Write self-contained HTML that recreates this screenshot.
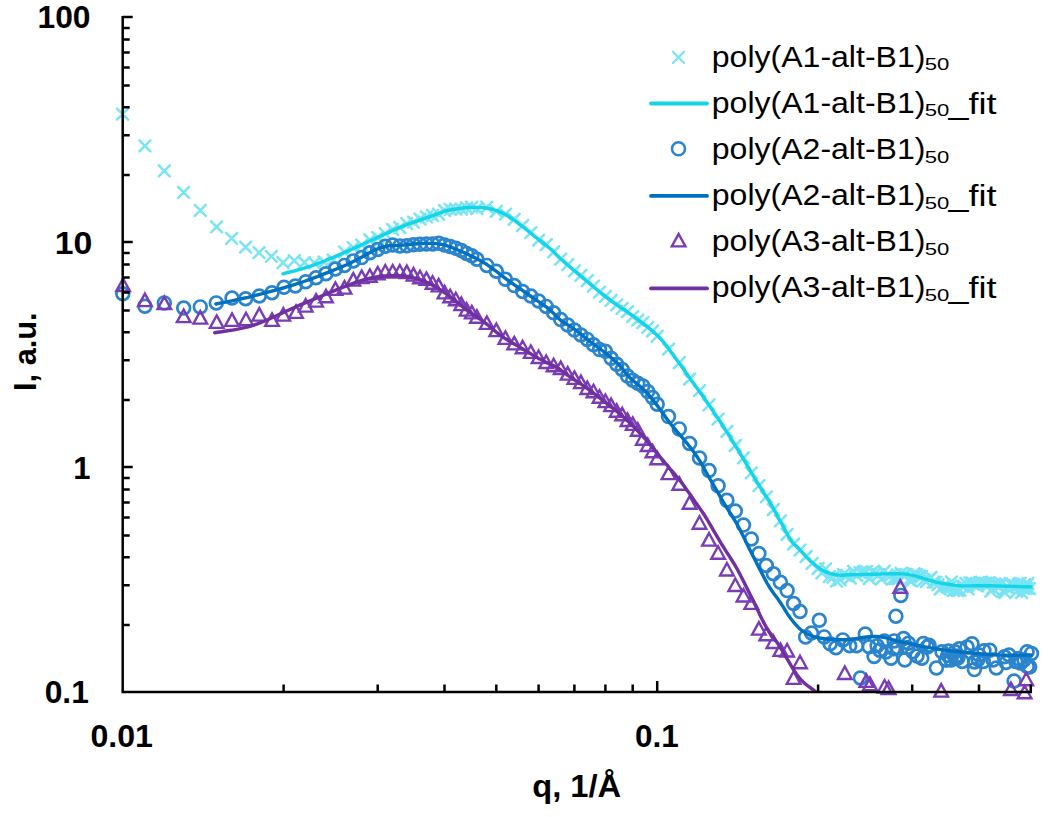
<!DOCTYPE html>
<html><head><meta charset="utf-8"><title>SAXS</title>
<style>html,body{margin:0;padding:0;background:#fff;width:1050px;height:817px;overflow:hidden}svg{display:block}</style>
</head><body>
<svg width="1050" height="817" viewBox="0 0 1050 817"><rect width="100%" height="100%" fill="#fff"/><path d="M117.0,108.6L128.0,119.6M117.0,119.6L128.0,108.6M139.4,140.3L150.4,151.3M139.4,151.3L150.4,140.3M158.8,165.3L169.8,176.3M158.8,176.3L169.8,165.3M178.1,186.9L189.1,197.9M178.1,197.9L189.1,186.9M194.8,204.9L205.8,215.9M194.8,215.9L205.8,204.9M211.1,221.4L222.1,232.4M211.1,232.4L222.1,221.4M226.1,232.8L237.1,243.8M226.1,243.8L237.1,232.8M240.1,241.6L251.1,252.6M240.1,252.6L251.1,241.6M253.5,247.1L264.5,258.1M253.5,258.1L264.5,247.1M265.9,250.9L276.9,261.9M265.9,261.9L276.9,250.9M277.5,257.1L288.5,268.1M277.5,268.1L288.5,257.1M288.8,255.2L299.8,266.2M288.8,266.2L299.8,255.2M299.0,257.0L310.0,268.0M299.0,268.0L310.0,257.0M308.9,257.5L319.9,268.5M308.9,268.5L319.9,257.5M318.5,256.5L329.5,267.5M318.5,267.5L329.5,256.5M327.7,254.5L338.7,265.5M327.7,265.5L338.7,254.5M339.0,246.6L350.0,257.6M339.0,257.6L350.0,246.6M347.8,242.2L358.8,253.2M347.8,253.2L358.8,242.2M356.2,239.6L367.2,250.6M356.2,250.6L367.2,239.6M364.4,234.5L375.4,245.5M364.4,245.5L375.4,234.5M372.2,232.0L383.2,243.0M372.2,243.0L383.2,232.0M379.8,228.1L390.8,239.1M379.8,239.1L390.8,228.1M387.2,224.0L398.2,235.0M387.2,235.0L398.2,224.0M394.3,222.0L405.3,233.0M394.3,233.0L405.3,222.0M401.3,218.1L412.3,229.1M401.3,229.1L412.3,218.1M408.0,216.6L419.0,227.6M408.0,227.6L419.0,216.6M414.5,213.5L425.5,224.5M414.5,224.5L425.5,213.5M420.9,211.4L431.9,222.4M420.9,222.4L431.9,211.4M427.1,210.0L438.1,221.0M427.1,221.0L438.1,210.0M433.1,208.7L444.1,219.7M433.1,219.7L444.1,208.7M439.0,205.0L450.0,216.0M439.0,216.0L450.0,205.0M444.7,203.8L455.7,214.8M444.7,214.8L455.7,203.8M450.3,203.7L461.3,214.7M450.3,214.7L461.3,203.7M455.8,203.7L466.8,214.7M455.8,214.7L466.8,203.7M461.1,202.3L472.1,213.3M461.1,213.3L472.1,202.3M466.3,201.6L477.3,212.6M466.3,212.6L477.3,201.6M471.4,203.1L482.4,214.1M471.4,214.1L482.4,203.1M481.3,201.6L492.3,212.6M481.3,212.6L492.3,201.6M490.8,205.9L501.8,216.9M490.8,216.9L501.8,205.9M499.9,208.6L510.9,219.6M499.9,219.6L510.9,208.6M508.7,213.9L519.7,224.9M508.7,224.9L519.7,213.9M517.1,220.2L528.1,231.2M517.1,231.2L528.1,220.2M525.3,227.1L536.3,238.1M525.3,238.1L536.3,227.1M533.1,234.7L544.1,245.7M533.1,245.7L544.1,234.7M540.7,239.2L551.7,250.2M540.7,250.2L551.7,239.2M548.1,246.4L559.1,257.4M548.1,257.4L559.1,246.4M555.2,253.7L566.2,264.7M555.2,264.7L566.2,253.7M562.2,259.1L573.2,270.1M562.2,270.1L573.2,259.1M568.9,265.4L579.9,276.4M568.9,276.4L579.9,265.4M575.4,269.8L586.4,280.8M575.4,280.8L586.4,269.8M581.8,275.1L592.8,286.1M581.8,286.1L592.8,275.1M588.0,280.6L599.0,291.6M588.0,291.6L599.0,280.6M594.0,286.7L605.0,297.7M594.0,297.7L605.0,286.7M599.9,290.8L610.9,301.8M599.9,301.8L610.9,290.8M605.6,294.8L616.6,305.8M605.6,305.8L616.6,294.8M611.2,299.4L622.2,310.4M611.2,310.4L622.2,299.4M616.7,302.8L627.7,313.8M616.7,313.8L627.7,302.8M622.0,306.1L633.0,317.1M622.0,317.1L633.0,306.1M627.2,311.1L638.2,322.1M627.2,322.1L638.2,311.1M632.3,314.6L643.3,325.6M632.3,325.6L643.3,314.6M637.3,317.2L648.3,328.2M637.3,328.2L648.3,317.2M642.2,321.8L653.2,332.8M642.2,332.8L653.2,321.8M647.0,325.5L658.0,336.5M647.0,336.5L658.0,325.5M651.7,330.6L662.7,341.6M651.7,341.6L662.7,330.6M663.0,343.6L674.0,354.6M663.0,354.6L674.0,343.6M673.8,357.2L684.8,368.2M673.8,368.2L684.8,357.2M684.1,373.5L695.1,384.5M684.1,384.5L695.1,373.5M694.0,385.2L705.0,396.2M694.0,396.2L705.0,385.2M703.5,399.4L714.5,410.4M703.5,410.4L714.5,399.4M712.6,413.7L723.6,424.7M712.6,424.7L723.6,413.7M721.4,425.8L732.4,436.8M721.4,436.8L732.4,425.8M729.8,440.0L740.8,451.0M729.8,451.0L740.8,440.0M738.0,452.4L749.0,463.4M738.0,463.4L749.0,452.4M745.8,467.4L756.8,478.4M745.8,478.4L756.8,467.4M753.4,480.2L764.4,491.2M753.4,491.2L764.4,480.2M760.8,491.3L771.8,502.3M760.8,502.3L771.8,491.3M767.9,504.0L778.9,515.0M767.9,515.0L778.9,504.0M774.9,515.4L785.9,526.4M774.9,526.4L785.9,515.4M781.6,528.8L792.6,539.8M781.6,539.8L792.6,528.8M788.1,538.5L799.1,549.5M788.1,549.5L799.1,538.5M794.5,544.6L805.5,555.6M794.5,555.6L805.5,544.6M800.7,551.0L811.7,562.0M800.7,562.0L811.7,551.0M806.7,557.8L817.7,568.8M806.7,568.8L817.7,557.8M812.6,562.9L823.6,573.9M812.6,573.9L823.6,562.9M812.6,563.0L823.6,574.0M812.6,574.0L823.6,563.0M816.4,567.4L827.4,578.4M816.4,578.4L827.4,567.4M820.1,563.3L831.1,574.3M820.1,574.3L831.1,563.3M823.8,571.2L834.8,582.2M823.8,582.2L834.8,571.2M827.4,571.6L838.4,582.6M827.4,582.6L838.4,571.6M831.0,575.7L842.0,586.7M831.0,586.7L842.0,575.7M834.5,574.4L845.5,585.4M834.5,585.4L845.5,574.4M838.0,569.0L849.0,580.0M838.0,580.0L849.0,569.0M841.4,569.8L852.4,580.8M841.4,580.8L852.4,569.8M844.7,572.5L855.7,583.5M844.7,583.5L855.7,572.5M848.1,565.9L859.1,576.9M848.1,576.9L859.1,565.9M851.3,570.2L862.3,581.2M851.3,581.2L862.3,570.2M854.5,567.2L865.5,578.2M854.5,578.2L865.5,567.2M857.7,566.6L868.7,577.6M857.7,577.6L868.7,566.6M860.8,566.0L871.8,577.0M860.8,577.0L871.8,566.0M863.9,573.0L874.9,584.0M863.9,584.0L874.9,573.0M867.0,566.5L878.0,577.5M867.0,577.5L878.0,566.5M870.0,567.6L881.0,578.6M870.0,578.6L881.0,567.6M873.0,569.0L884.0,580.0M873.0,580.0L884.0,569.0M875.9,573.7L886.9,584.7M875.9,584.7L886.9,573.7M878.8,565.7L889.8,576.7M878.8,576.7L889.8,565.7M881.7,569.3L892.7,580.3M881.7,580.3L892.7,569.3M884.5,570.3L895.5,581.3M884.5,581.3L895.5,570.3M887.3,573.6L898.3,584.6M887.3,584.6L898.3,573.6M890.0,573.0L901.0,584.0M890.0,584.0L901.0,573.0M892.8,573.4L903.8,584.4M892.8,584.4L903.8,573.4M895.5,567.6L906.5,578.6M895.5,578.6L906.5,567.6M898.1,569.1L909.1,580.1M898.1,580.1L909.1,569.1M900.8,568.8L911.8,579.8M900.8,579.8L911.8,568.8M903.4,574.4L914.4,585.4M903.4,585.4L914.4,574.4M905.9,575.6L916.9,586.6M905.9,586.6L916.9,575.6M908.5,568.2L919.5,579.2M908.5,579.2L919.5,568.2M911.0,569.2L922.0,580.2M911.0,580.2L922.0,569.2M913.5,570.4L924.5,581.4M913.5,581.4L924.5,570.4M916.0,571.1L927.0,582.1M916.0,582.1L927.0,571.1M918.4,574.4L929.4,585.4M918.4,585.4L929.4,574.4M920.8,576.2L931.8,587.2M920.8,587.2L931.8,576.2M923.2,573.7L934.2,584.7M923.2,584.7L934.2,573.7M925.6,571.8L936.6,582.8M925.6,582.8L936.6,571.8M927.9,576.6L938.9,587.6M927.9,587.6L938.9,576.6M930.2,576.7L941.2,587.7M930.2,587.7L941.2,576.7M932.5,579.2L943.5,590.2M932.5,590.2L943.5,579.2M934.8,583.5L945.8,594.5M934.8,594.5L945.8,583.5M937.1,581.3L948.1,592.3M937.1,592.3L948.1,581.3M939.3,579.9L950.3,590.9M939.3,590.9L950.3,579.9M941.5,581.3L952.5,592.3M941.5,592.3L952.5,581.3M943.7,582.2L954.7,593.2M943.7,593.2L954.7,582.2M945.9,576.3L956.9,587.3M945.9,587.3L956.9,576.3M948.0,585.0L959.0,596.0M948.0,596.0L959.0,585.0M950.1,584.1L961.1,595.1M950.1,595.1L961.1,584.1M952.2,585.2L963.2,596.2M952.2,596.2L963.2,585.2M954.3,584.7L965.3,595.7M954.3,595.7L965.3,584.7M956.4,580.7L967.4,591.7M956.4,591.7L967.4,580.7M958.5,580.9L969.5,591.9M958.5,591.9L969.5,580.9M960.5,578.0L971.5,589.0M960.5,589.0L971.5,578.0M962.5,583.3L973.5,594.3M962.5,594.3L973.5,583.3M964.5,577.5L975.5,588.5M964.5,588.5L975.5,577.5M966.5,577.5L977.5,588.5M966.5,588.5L977.5,577.5M968.5,578.9L979.5,589.9M968.5,589.9L979.5,578.9M970.4,578.4L981.4,589.4M970.4,589.4L981.4,578.4M972.3,580.1L983.3,591.1M972.3,591.1L983.3,580.1M974.3,577.2L985.3,588.2M974.3,588.2L985.3,577.2M976.2,576.7L987.2,587.7M976.2,587.7L987.2,576.7M978.0,578.2L989.0,589.2M978.0,589.2L989.0,578.2M979.9,577.7L990.9,588.7M979.9,588.7L990.9,577.7M981.8,580.4L992.8,591.4M981.8,591.4L992.8,580.4M983.6,577.1L994.6,588.1M983.6,588.1L994.6,577.1M985.4,585.6L996.4,596.6M985.4,596.6L996.4,585.6M987.2,583.0L998.2,594.0M987.2,594.0L998.2,583.0M989.0,578.4L1000.0,589.4M989.0,589.4L1000.0,578.4M990.8,579.5L1001.8,590.5M990.8,590.5L1001.8,579.5M992.6,580.5L1003.6,591.5M992.6,591.5L1003.6,580.5M994.4,580.7L1005.4,591.7M994.4,591.7L1005.4,580.7M996.1,578.3L1007.1,589.3M996.1,589.3L1007.1,578.3M997.8,585.6L1008.8,596.6M997.8,596.6L1008.8,585.6M999.5,587.1L1010.5,598.1M999.5,598.1L1010.5,587.1M1001.3,581.9L1012.3,592.9M1001.3,592.9L1012.3,581.9M1002.9,582.1L1013.9,593.1M1002.9,593.1L1013.9,582.1M1004.6,578.2L1015.6,589.2M1004.6,589.2L1015.6,578.2M1006.3,578.4L1017.3,589.4M1006.3,589.4L1017.3,578.4M1008.0,580.8L1019.0,591.8M1008.0,591.8L1019.0,580.8M1009.6,580.1L1020.6,591.1M1009.6,591.1L1020.6,580.1M1011.2,585.8L1022.2,596.8M1011.2,596.8L1022.2,585.8M1012.9,579.2L1023.9,590.2M1012.9,590.2L1023.9,579.2M1014.5,577.8L1025.5,588.8M1014.5,588.8L1025.5,577.8M1016.1,587.1L1027.1,598.1M1016.1,598.1L1027.1,587.1M1017.7,583.0L1028.7,594.0M1017.7,594.0L1028.7,583.0M1019.2,579.2L1030.2,590.2M1019.2,590.2L1030.2,579.2M1020.8,583.2L1031.8,594.2M1020.8,594.2L1031.8,583.2M1022.4,578.1L1033.4,589.1M1022.4,589.1L1033.4,578.1M1023.9,583.1L1034.9,594.1M1023.9,594.1L1034.9,583.1" stroke="#78E4F4" stroke-width="2.5" stroke-linecap="round" fill="none"/><path d="M283.0,273.8 L285.1,273.2 L287.9,272.5 L291.2,271.7 L294.8,270.8 L298.8,269.7 L302.8,268.6 L306.7,267.4 L310.5,266.2 L314.2,264.9 L317.9,263.5 L321.7,262.0 L325.6,260.5 L329.4,258.9 L333.3,257.3 L337.2,255.6 L341.0,254.0 L344.8,252.4 L348.6,250.7 L352.4,249.0 L356.2,247.2 L360.0,245.5 L363.8,243.8 L367.6,242.0 L371.4,240.3 L375.2,238.6 L379.1,236.8 L382.9,235.0 L386.8,233.2 L390.6,231.5 L394.4,229.8 L398.2,228.1 L401.9,226.6 L405.6,225.1 L409.4,223.7 L413.2,222.4 L416.9,221.1 L420.5,219.9 L423.9,218.7 L427.1,217.6 L430.0,216.6 L432.5,215.7 L434.7,214.9 L436.6,214.1 L438.4,213.5 L440.1,212.8 L441.7,212.3 L443.4,211.7 L445.2,211.2 L447.1,210.7 L449.0,210.2 L450.9,209.8 L452.9,209.4 L454.8,209.1 L456.7,208.7 L458.6,208.5 L460.5,208.2 L462.4,208.0 L464.3,207.8 L466.2,207.6 L468.1,207.5 L470.0,207.4 L471.9,207.4 L473.8,207.4 L475.7,207.4 L477.6,207.5 L479.5,207.5 L481.4,207.6 L483.4,207.8 L485.3,208.0 L487.2,208.2 L489.1,208.6 L491.0,209.0 L492.9,209.5 L494.8,210.1 L496.7,210.7 L498.6,211.4 L500.5,212.2 L502.4,213.1 L504.3,214.0 L506.2,215.0 L508.1,216.1 L510.0,217.3 L511.9,218.6 L513.8,220.0 L515.7,221.4 L517.6,222.8 L519.5,224.3 L521.4,225.7 L523.3,227.2 L525.2,228.6 L527.1,230.2 L529.0,231.7 L531.0,233.3 L532.9,234.8 L534.8,236.4 L536.7,237.9 L538.7,239.5 L540.7,241.0 L542.7,242.7 L544.8,244.3 L546.7,245.8 L548.6,247.3 L550.3,248.8 L551.9,250.1 L553.1,251.2 L554.0,252.1 L554.7,252.9 L555.4,253.6 L556.1,254.4 L557.0,255.4 L558.3,256.6 L560.0,258.2 L562.3,260.2 L565.0,262.6 L568.0,265.2 L571.2,268.0 L574.6,270.9 L578.0,273.8 L581.3,276.6 L584.5,279.3 L587.6,281.9 L590.6,284.4 L593.7,287.0 L596.8,289.5 L599.8,292.0 L602.9,294.4 L605.9,296.8 L609.0,299.2 L612.1,301.5 L615.1,303.6 L618.2,305.7 L621.2,307.8 L624.3,309.9 L627.4,312.0 L630.4,314.2 L633.5,316.4 L636.6,318.7 L639.8,321.1 L643.0,323.4 L646.2,325.9 L649.3,328.3 L652.3,330.8 L655.3,333.4 L658.0,336.0 L660.6,338.7 L663.0,341.4 L665.3,344.3 L667.5,347.1 L669.6,350.0 L671.7,352.9 L673.8,355.8 L675.9,358.6 L678.0,361.4 L680.0,364.2 L682.0,367.0 L684.0,369.8 L685.9,372.6 L687.9,375.3 L689.8,378.1 L691.8,380.9 L693.8,383.7 L695.8,386.4 L697.8,389.2 L699.8,392.0 L701.7,394.7 L703.7,397.5 L705.7,400.3 L707.7,403.2 L709.7,406.1 L711.7,409.0 L713.6,411.9 L715.6,414.9 L717.6,417.8 L719.6,420.8 L721.6,423.9 L723.6,427.0 L725.6,430.2 L727.7,433.4 L729.7,436.6 L731.8,439.9 L733.9,443.2 L735.9,446.5 L738.0,449.9 L740.0,453.2 L742.0,456.5 L744.0,459.9 L746.0,463.3 L748.0,466.7 L750.0,470.1 L751.9,473.5 L753.9,476.9 L755.9,480.2 L757.9,483.4 L759.8,486.5 L761.8,489.5 L763.7,492.6 L765.7,495.6 L767.7,498.8 L769.7,502.2 L771.8,505.7 L774.0,509.6 L776.4,514.0 L778.9,518.7 L781.4,523.3 L783.9,527.9 L786.2,532.1 L788.2,535.8 L790.0,538.8 L791.4,541.0 L792.6,542.6 L793.5,543.7 L794.3,544.4 L795.0,545.0 L795.7,545.5 L796.5,546.1 L797.3,546.9 L798.2,547.9 L799.1,548.9 L800.1,550.0 L801.0,551.0 L801.9,552.0 L802.9,553.0 L803.8,554.0 L804.7,555.0 L805.6,556.0 L806.5,556.9 L807.4,557.9 L808.4,558.8 L809.3,559.7 L810.2,560.6 L811.1,561.5 L812.0,562.3 L812.9,563.1 L813.8,563.9 L814.8,564.7 L815.7,565.5 L816.6,566.2 L817.6,566.9 L818.5,567.6 L819.4,568.2 L820.3,568.8 L821.2,569.4 L822.1,569.9 L823.0,570.4 L824.0,570.9 L824.9,571.4 L825.8,571.8 L826.7,572.2 L827.6,572.6 L828.5,572.9 L829.5,573.2 L830.4,573.5 L831.3,573.8 L832.3,574.0 L833.2,574.2 L834.1,574.4 L835.0,574.6 L835.9,574.7 L836.8,574.9 L837.7,575.0 L838.6,575.0 L839.5,575.1 L840.4,575.2 L841.4,575.2 L842.3,575.2 L843.2,575.2 L844.0,575.1 L844.9,575.1 L845.9,575.0 L847.0,574.9 L848.4,574.9 L850.0,574.8 L851.9,574.7 L854.2,574.7 L856.6,574.6 L859.2,574.6 L861.9,574.5 L864.6,574.4 L867.4,574.4 L870.0,574.3 L872.6,574.2 L875.4,574.2 L878.2,574.1 L881.0,574.0 L883.7,573.9 L886.4,573.9 L889.0,573.8 L891.4,573.8 L893.7,573.8 L895.8,573.8 L897.9,573.8 L899.9,573.8 L901.8,573.9 L903.7,573.9 L905.5,574.1 L907.4,574.3 L909.2,574.6 L910.9,574.9 L912.6,575.3 L914.3,575.7 L915.9,576.2 L917.6,576.7 L919.3,577.2 L921.1,577.7 L922.9,578.2 L924.8,578.8 L926.6,579.4 L928.5,580.0 L930.5,580.6 L932.6,581.2 L934.8,581.8 L937.1,582.3 L939.6,582.8 L942.3,583.3 L945.2,583.8 L948.1,584.3 L951.1,584.7 L954.1,585.1 L957.1,585.4 L960.0,585.7 L962.9,585.9 L965.7,585.9 L968.6,585.9 L971.5,585.9 L974.3,585.8 L977.2,585.7 L980.0,585.7 L982.9,585.7 L985.7,585.7 L988.5,585.8 L991.3,585.8 L994.2,585.9 L997.0,586.0 L999.8,586.0 L1002.7,586.1 L1005.7,586.2 L1008.9,586.3 L1012.4,586.4 L1016.1,586.5 L1019.8,586.6 L1023.3,586.7 L1026.4,586.8 L1029.0,586.8 L1031.0,586.9" stroke="#14D4E8" stroke-width="3.4" fill="none" stroke-linejoin="round" stroke-linecap="round"/><g fill="none" stroke="#2A84CE" stroke-width="2.7"><circle cx="122.8" cy="293.7" r="6.4"/><circle cx="144.9" cy="306.3" r="6.4"/><circle cx="164.3" cy="302.9" r="6.4"/><circle cx="183.7" cy="308.0" r="6.4"/><circle cx="200.3" cy="306.9" r="6.4"/><circle cx="216.3" cy="302.9" r="6.4"/><circle cx="232.0" cy="298.0" r="6.4"/><circle cx="245.6" cy="298.7" r="6.4"/><circle cx="259.3" cy="296.0" r="6.4"/><circle cx="272.0" cy="292.7" r="6.4"/><circle cx="284.0" cy="287.3" r="6.4"/><circle cx="295.3" cy="286.0" r="6.4"/><circle cx="305.7" cy="281.7" r="6.4"/><circle cx="316.0" cy="277.8" r="6.4"/><circle cx="325.9" cy="273.7" r="6.4"/><circle cx="335.4" cy="269.0" r="6.4"/><circle cx="344.5" cy="265.4" r="6.4"/><circle cx="353.3" cy="260.9" r="6.4"/><circle cx="361.7" cy="257.6" r="6.4"/><circle cx="369.9" cy="252.7" r="6.4"/><circle cx="377.7" cy="249.5" r="6.4"/><circle cx="385.3" cy="246.2" r="6.4"/><circle cx="392.7" cy="245.0" r="6.4"/><circle cx="399.8" cy="245.9" r="6.4"/><circle cx="406.8" cy="245.7" r="6.4"/><circle cx="413.5" cy="244.8" r="6.4"/><circle cx="420.0" cy="244.2" r="6.4"/><circle cx="426.4" cy="244.0" r="6.4"/><circle cx="432.6" cy="243.9" r="6.4"/><circle cx="438.6" cy="243.3" r="6.4"/><circle cx="444.5" cy="245.0" r="6.4"/><circle cx="450.2" cy="246.6" r="6.4"/><circle cx="455.8" cy="248.2" r="6.4"/><circle cx="461.3" cy="250.5" r="6.4"/><circle cx="466.6" cy="253.4" r="6.4"/><circle cx="471.8" cy="255.8" r="6.4"/><circle cx="476.9" cy="259.2" r="6.4"/><circle cx="486.8" cy="265.4" r="6.4"/><circle cx="496.3" cy="271.2" r="6.4"/><circle cx="505.4" cy="279.2" r="6.4"/><circle cx="514.2" cy="285.6" r="6.4"/><circle cx="522.6" cy="291.5" r="6.4"/><circle cx="530.8" cy="296.0" r="6.4"/><circle cx="538.6" cy="301.0" r="6.4"/><circle cx="546.2" cy="306.4" r="6.4"/><circle cx="553.6" cy="312.8" r="6.4"/><circle cx="560.7" cy="319.6" r="6.4"/><circle cx="567.7" cy="325.0" r="6.4"/><circle cx="574.4" cy="330.0" r="6.4"/><circle cx="580.9" cy="335.0" r="6.4"/><circle cx="587.3" cy="339.4" r="6.4"/><circle cx="593.5" cy="344.7" r="6.4"/><circle cx="599.5" cy="349.6" r="6.4"/><circle cx="605.4" cy="351.3" r="6.4"/><circle cx="611.1" cy="358.3" r="6.4"/><circle cx="616.7" cy="364.2" r="6.4"/><circle cx="622.2" cy="369.5" r="6.4"/><circle cx="627.5" cy="376.1" r="6.4"/><circle cx="632.7" cy="380.2" r="6.4"/><circle cx="637.8" cy="383.3" r="6.4"/><circle cx="642.8" cy="385.9" r="6.4"/><circle cx="647.7" cy="391.6" r="6.4"/><circle cx="652.5" cy="397.5" r="6.4"/><circle cx="657.2" cy="404.2" r="6.4"/><circle cx="668.5" cy="416.6" r="6.4"/><circle cx="679.3" cy="428.9" r="6.4"/><circle cx="689.6" cy="443.5" r="6.4"/><circle cx="699.5" cy="458.0" r="6.4"/><circle cx="709.0" cy="470.5" r="6.4"/><circle cx="718.1" cy="485.7" r="6.4"/><circle cx="726.9" cy="500.2" r="6.4"/><circle cx="735.3" cy="511.0" r="6.4"/><circle cx="743.5" cy="525.1" r="6.4"/><circle cx="751.3" cy="539.0" r="6.4"/><circle cx="758.9" cy="553.6" r="6.4"/><circle cx="766.3" cy="565.5" r="6.4"/><circle cx="773.4" cy="573.8" r="6.4"/><circle cx="780.4" cy="582.3" r="6.4"/><circle cx="787.1" cy="590.6" r="6.4"/><circle cx="793.6" cy="603.5" r="6.4"/><circle cx="800.0" cy="611.5" r="6.4"/><circle cx="819.3" cy="620.3" r="6.4"/><circle cx="805.6" cy="636.9" r="6.4"/><circle cx="811.5" cy="633.0" r="6.4"/><circle cx="824.2" cy="636.9" r="6.4"/><circle cx="830.1" cy="643.8" r="6.4"/><circle cx="835.9" cy="647.7" r="6.4"/><circle cx="842.8" cy="639.9" r="6.4"/><circle cx="849.7" cy="645.7" r="6.4"/><circle cx="856.5" cy="645.7" r="6.4"/><circle cx="865.3" cy="634.0" r="6.4"/><circle cx="869.2" cy="646.7" r="6.4"/><circle cx="874.1" cy="656.5" r="6.4"/><circle cx="877.1" cy="645.7" r="6.4"/><circle cx="860.4" cy="678.0" r="6.4"/><circle cx="895.9" cy="616.2" r="6.4"/><circle cx="900.8" cy="595.4" r="6.4"/><circle cx="879.7" cy="650.2" r="6.4"/><circle cx="891.0" cy="658.3" r="6.4"/><circle cx="904.8" cy="659.9" r="6.4"/><circle cx="912.9" cy="651.8" r="6.4"/><circle cx="921.8" cy="658.3" r="6.4"/><circle cx="929.1" cy="645.3" r="6.4"/><circle cx="936.4" cy="668.0" r="6.4"/><circle cx="942.0" cy="651.8" r="6.4"/><circle cx="951.0" cy="659.9" r="6.4"/><circle cx="955.0" cy="651.8" r="6.4"/><circle cx="962.3" cy="661.5" r="6.4"/><circle cx="967.1" cy="647.0" r="6.4"/><circle cx="972.0" cy="643.7" r="6.4"/><circle cx="974.4" cy="669.6" r="6.4"/><circle cx="983.3" cy="661.5" r="6.4"/><circle cx="989.8" cy="650.2" r="6.4"/><circle cx="996.3" cy="668.0" r="6.4"/><circle cx="1004.4" cy="656.7" r="6.4"/><circle cx="1015.7" cy="661.5" r="6.4"/><circle cx="1027.1" cy="651.8" r="6.4"/><circle cx="1031.5" cy="653.4" r="6.4"/><circle cx="1014.1" cy="681.0" r="6.4"/><circle cx="1020.6" cy="663.1" r="6.4"/><circle cx="886.0" cy="652.0" r="6.4"/><circle cx="897.0" cy="648.0" r="6.4"/><circle cx="917.0" cy="656.0" r="6.4"/><circle cx="946.0" cy="660.0" r="6.4"/><circle cx="958.0" cy="656.0" r="6.4"/><circle cx="979.0" cy="655.0" r="6.4"/><circle cx="993.0" cy="660.0" r="6.4"/><circle cx="1009.0" cy="655.0" r="6.4"/><circle cx="1024.0" cy="660.0" r="6.4"/><circle cx="947.9" cy="655.4" r="6.4"/><circle cx="1018.6" cy="658.6" r="6.4"/><circle cx="956.2" cy="656.9" r="6.4"/><circle cx="907.7" cy="647.4" r="6.4"/><circle cx="974.5" cy="662.0" r="6.4"/><circle cx="894.1" cy="640.9" r="6.4"/><circle cx="893.6" cy="648.8" r="6.4"/><circle cx="984.0" cy="650.8" r="6.4"/><circle cx="1027.3" cy="666.5" r="6.4"/><circle cx="978.1" cy="659.5" r="6.4"/><circle cx="903.6" cy="638.6" r="6.4"/><circle cx="959.3" cy="648.7" r="6.4"/><circle cx="908.5" cy="643.3" r="6.4"/><circle cx="884.5" cy="641.0" r="6.4"/><circle cx="946.1" cy="659.7" r="6.4"/><circle cx="957.9" cy="657.9" r="6.4"/><circle cx="955.0" cy="657.9" r="6.4"/><circle cx="948.6" cy="651.0" r="6.4"/><circle cx="1029.6" cy="666.9" r="6.4"/><circle cx="1006.0" cy="662.5" r="6.4"/><circle cx="927.3" cy="646.9" r="6.4"/><circle cx="923.4" cy="643.6" r="6.4"/></g><path d="M216.0,304.0 L218.8,303.4 L222.5,302.7 L226.9,301.8 L231.8,300.8 L237.0,299.7 L242.5,298.5 L248.0,297.3 L253.3,296.0 L258.6,294.6 L264.2,293.2 L269.9,291.7 L275.7,290.1 L281.6,288.5 L287.5,286.7 L293.5,284.9 L299.3,283.0 L305.2,281.0 L311.2,278.8 L317.3,276.6 L323.4,274.2 L329.4,271.9 L335.2,269.5 L340.8,267.2 L346.0,265.0 L350.9,262.7 L355.7,260.3 L360.2,257.9 L364.5,255.6 L368.6,253.3 L372.6,251.2 L376.4,249.4 L380.0,248.0 L383.4,247.0 L386.5,246.3 L389.4,245.8 L392.2,245.6 L394.8,245.5 L397.4,245.4 L400.1,245.3 L402.9,245.1 L405.8,244.8 L408.7,244.5 L411.7,244.2 L414.7,244.0 L417.6,243.8 L420.4,243.6 L423.1,243.5 L425.7,243.4 L428.1,243.4 L430.4,243.4 L432.6,243.4 L434.7,243.5 L436.7,243.6 L438.7,243.9 L440.8,244.2 L442.9,244.6 L445.0,245.1 L447.2,245.8 L449.3,246.5 L451.5,247.3 L453.6,248.2 L455.7,249.1 L457.9,250.0 L460.0,250.9 L462.2,251.8 L464.4,252.8 L466.6,253.8 L468.8,254.8 L471.0,255.9 L473.1,256.9 L475.2,257.9 L477.1,258.9 L478.8,259.8 L480.4,260.6 L481.8,261.4 L483.2,262.2 L484.6,263.1 L486.1,264.0 L487.7,265.1 L489.6,266.4 L491.7,267.9 L494.0,269.6 L496.4,271.4 L499.0,273.4 L501.5,275.3 L504.1,277.3 L506.7,279.3 L509.2,281.1 L511.6,282.9 L514.1,284.6 L516.5,286.3 L519.0,288.0 L521.4,289.7 L523.8,291.4 L526.3,293.1 L528.7,294.8 L531.2,296.5 L533.8,298.3 L536.4,300.1 L539.0,301.8 L541.5,303.6 L544.0,305.3 L546.2,306.9 L548.3,308.5 L550.1,310.0 L551.7,311.5 L553.1,312.9 L554.5,314.3 L555.7,315.6 L557.0,317.0 L558.4,318.3 L560.0,319.6 L561.7,320.9 L563.5,322.1 L565.3,323.3 L567.2,324.5 L569.1,325.6 L571.0,326.8 L572.8,328.1 L574.7,329.4 L576.5,330.8 L578.4,332.2 L580.2,333.7 L582.1,335.2 L583.9,336.7 L585.7,338.2 L587.6,339.7 L589.4,341.1 L591.2,342.5 L593.1,343.8 L594.9,345.1 L596.8,346.4 L598.6,347.8 L600.4,349.1 L602.3,350.5 L604.1,351.9 L606.0,353.4 L607.9,354.9 L609.8,356.5 L611.7,358.1 L613.6,359.7 L615.4,361.4 L617.1,363.0 L618.8,364.6 L620.3,366.2 L621.7,367.8 L623.0,369.4 L624.2,371.0 L625.5,372.7 L626.8,374.3 L628.2,375.9 L629.7,377.5 L631.4,379.1 L633.2,380.7 L635.1,382.3 L637.0,383.9 L638.9,385.4 L640.8,387.0 L642.7,388.7 L644.4,390.3 L646.0,391.9 L647.5,393.5 L648.9,395.2 L650.3,396.8 L651.7,398.5 L653.1,400.2 L654.6,402.1 L656.1,404.0 L657.7,406.1 L659.4,408.4 L661.2,410.9 L663.0,413.4 L664.7,415.8 L666.4,418.2 L668.1,420.5 L669.6,422.5 L671.0,424.3 L672.3,425.9 L673.5,427.4 L674.7,428.8 L675.9,430.2 L677.0,431.5 L678.2,432.9 L679.4,434.3 L680.6,435.8 L681.9,437.2 L683.1,438.6 L684.3,440.0 L685.5,441.5 L686.7,442.9 L688.0,444.4 L689.2,446.0 L690.4,447.6 L691.7,449.2 L692.9,450.8 L694.1,452.5 L695.3,454.2 L696.6,456.0 L697.8,457.8 L699.0,459.7 L700.2,461.7 L701.5,463.8 L702.7,466.1 L704.0,468.3 L705.2,470.6 L706.5,472.8 L707.7,475.0 L708.8,477.0 L709.9,478.9 L711.0,480.7 L712.0,482.5 L713.0,484.2 L714.0,485.9 L715.0,487.6 L716.0,489.3 L717.0,491.0 L718.0,492.7 L718.9,494.3 L719.8,496.0 L720.7,497.6 L721.7,499.3 L722.7,501.0 L723.8,502.9 L725.0,504.9 L726.3,507.0 L727.8,509.3 L729.3,511.6 L730.8,514.0 L732.4,516.5 L734.0,519.1 L735.6,521.8 L737.2,524.5 L738.7,527.3 L740.3,530.3 L741.8,533.4 L743.4,536.5 L744.9,539.6 L746.4,542.8 L748.0,545.9 L749.5,549.0 L751.1,552.1 L752.6,555.2 L754.3,558.4 L755.9,561.6 L757.4,564.7 L758.9,567.6 L760.4,570.4 L761.7,573.0 L762.9,575.3 L764.0,577.4 L765.0,579.3 L766.0,581.1 L766.9,582.8 L767.9,584.5 L768.9,586.2 L770.0,588.0 L771.2,589.8 L772.4,591.5 L773.6,593.3 L774.9,595.0 L776.2,596.7 L777.5,598.4 L778.7,600.2 L780.0,602.0 L781.2,603.9 L782.5,605.9 L783.8,607.9 L785.0,609.9 L786.2,611.9 L787.5,613.9 L788.8,615.7 L790.0,617.5 L791.3,619.2 L792.5,620.8 L793.8,622.4 L795.1,623.9 L796.3,625.3 L797.6,626.6 L798.8,627.9 L800.0,629.0 L801.2,630.0 L802.3,630.9 L803.5,631.7 L804.6,632.4 L805.7,633.1 L806.9,633.7 L808.0,634.2 L809.2,634.8 L810.4,635.3 L811.6,635.8 L812.8,636.2 L814.1,636.6 L815.3,636.9 L816.5,637.2 L817.8,637.5 L819.0,637.8 L820.2,638.1 L821.5,638.3 L822.7,638.5 L823.9,638.7 L825.1,638.9 L826.4,639.0 L827.6,639.2 L828.8,639.3 L830.0,639.4 L831.2,639.5 L832.4,639.6 L833.6,639.6 L834.8,639.7 L836.0,639.7 L837.3,639.7 L838.6,639.7 L839.8,639.7 L841.0,639.7 L842.1,639.7 L843.2,639.7 L844.5,639.7 L846.0,639.6 L847.8,639.5 L850.0,639.3 L852.6,639.0 L855.7,638.6 L859.1,638.1 L862.7,637.5 L866.4,637.0 L870.1,636.7 L873.7,636.5 L877.1,636.5 L880.3,636.8 L883.4,637.3 L886.4,637.9 L889.4,638.7 L892.5,639.6 L895.6,640.4 L898.9,641.3 L902.4,642.1 L906.1,642.9 L910.0,643.7 L914.0,644.6 L918.2,645.5 L922.3,646.3 L926.5,647.1 L930.7,647.9 L934.8,648.6 L938.8,649.2 L942.9,649.8 L946.9,650.4 L950.9,650.9 L955.0,651.3 L959.0,651.8 L963.1,652.2 L967.1,652.6 L971.2,653.0 L975.2,653.4 L979.3,653.7 L983.4,654.1 L987.4,654.3 L991.5,654.6 L995.5,654.8 L999.5,655.0 L1003.7,655.1 L1008.2,655.2 L1012.8,655.2 L1017.3,655.1 L1021.5,655.1 L1025.4,655.1 L1028.6,655.0 L1031.0,655.0" stroke="#0070C0" stroke-width="3.4" fill="none" stroke-linejoin="round" stroke-linecap="round"/><path d="M123.1,278.5L129.9,291.0L116.3,291.0ZM144.9,293.6L151.7,306.1L138.1,306.1ZM164.3,296.6L171.1,309.1L157.5,309.1ZM183.7,309.6L190.5,322.1L176.9,322.1ZM200.3,311.1L207.1,323.6L193.5,323.6ZM216.7,315.4L223.5,327.9L209.9,327.9ZM232.0,313.4L238.8,325.9L225.2,325.9ZM246.0,312.7L252.8,325.2L239.2,325.2ZM259.3,308.1L266.1,320.6L252.5,320.6ZM272.0,313.4L278.8,325.9L265.2,325.9ZM283.3,308.1L290.1,320.6L276.5,320.6ZM296.0,305.4L302.8,317.9L289.2,317.9ZM305.7,299.1L312.5,311.6L298.9,311.6ZM316.1,294.1L322.9,306.6L309.3,306.6ZM326.0,289.8L332.8,302.3L319.2,302.3ZM335.4,282.4L342.2,294.9L328.6,294.9ZM344.5,281.1L351.3,293.6L337.7,293.6ZM353.3,273.1L360.1,285.6L346.5,285.6ZM361.7,270.6L368.5,283.1L354.9,283.1ZM369.8,269.4L376.6,281.9L363.0,281.9ZM377.7,266.9L384.5,279.4L370.9,279.4ZM385.3,265.0L392.1,277.5L378.5,277.5ZM392.7,265.0L399.5,277.5L385.9,277.5ZM399.8,265.0L406.6,277.5L393.0,277.5ZM406.8,265.6L413.6,278.1L400.0,278.1ZM413.5,268.1L420.3,280.6L406.7,280.6ZM420.0,270.7L426.8,283.2L413.2,283.2ZM426.4,272.4L433.2,284.9L419.6,284.9ZM432.6,276.3L439.4,288.8L425.8,288.8ZM438.6,278.9L445.4,291.4L431.8,291.4ZM444.5,285.9L451.3,298.4L437.7,298.4ZM450.2,289.8L457.0,302.3L443.4,302.3ZM455.8,292.7L462.6,305.2L449.0,305.2ZM461.3,297.6L468.1,310.1L454.5,310.1ZM466.6,303.1L473.4,315.6L459.8,315.6ZM471.8,305.9L478.6,318.4L465.0,318.4ZM476.9,310.3L483.7,322.8L470.1,322.8ZM486.8,316.4L493.6,328.9L480.0,328.9ZM496.3,323.6L503.1,336.1L489.5,336.1ZM505.4,331.4L512.2,343.9L498.6,343.9ZM514.2,336.9L521.0,349.4L507.4,349.4ZM522.6,340.8L529.4,353.3L515.8,353.3ZM530.8,345.4L537.6,357.9L524.0,357.9ZM538.6,350.5L545.4,363.0L531.8,363.0ZM546.2,355.5L553.0,368.0L539.4,368.0ZM553.6,358.7L560.4,371.2L546.8,371.2ZM560.7,361.6L567.5,374.1L553.9,374.1ZM567.7,367.1L574.5,379.6L560.9,379.6ZM574.4,371.4L581.2,383.9L567.6,383.9ZM580.9,375.6L587.7,388.1L574.1,388.1ZM587.3,381.5L594.1,394.0L580.5,394.0ZM593.5,384.8L600.3,397.3L586.7,397.3ZM599.5,390.2L606.3,402.7L592.7,402.7ZM605.4,394.6L612.2,407.1L598.6,407.1ZM611.1,398.6L617.9,411.1L604.3,411.1ZM616.7,404.2L623.5,416.7L609.9,416.7ZM622.2,407.7L629.0,420.2L615.4,420.2ZM627.5,413.5L634.3,426.0L620.7,426.0ZM632.7,417.4L639.5,429.9L625.9,429.9ZM637.8,423.3L644.6,435.8L631.0,435.8ZM642.8,432.2L649.6,444.7L636.0,444.7ZM647.7,438.5L654.5,451.0L640.9,451.0ZM652.5,444.8L659.3,457.3L645.7,457.3ZM657.2,451.7L664.0,464.2L650.4,464.2ZM668.5,466.6L675.3,479.1L661.7,479.1ZM679.3,477.3L686.1,489.8L672.5,489.8ZM689.6,496.2L696.4,508.7L682.8,508.7ZM699.5,516.2L706.3,528.7L692.7,528.7ZM709.0,533.1L715.8,545.6L702.2,545.6ZM718.1,546.2L724.9,558.7L711.3,558.7ZM726.9,563.0L733.7,575.5L720.1,575.5ZM735.3,578.5L742.1,591.0L728.5,591.0ZM743.5,589.0L750.3,601.5L736.7,601.5ZM751.3,596.4L758.1,608.9L744.5,608.9ZM758.9,622.1L765.7,634.6L752.1,634.6ZM766.3,627.7L773.1,640.2L759.5,640.2ZM773.4,635.5L780.2,648.0L766.6,648.0ZM780.4,643.4L787.2,655.9L773.6,655.9ZM787.1,644.0L793.9,656.5L780.3,656.5ZM793.6,671.4L800.4,683.9L786.8,683.9ZM800.0,655.8L806.8,668.3L793.2,668.3ZM844.8,666.5L851.6,679.0L838.0,679.0ZM866.3,674.4L873.1,686.9L859.5,686.9ZM870.0,677.6L876.8,690.1L863.2,690.1ZM884.6,680.0L891.4,692.5L877.8,692.5ZM888.6,681.6L895.4,694.1L881.8,694.1ZM941.2,684.1L948.0,696.6L934.4,696.6ZM1010.9,682.5L1017.7,695.0L1004.1,695.0ZM1026.2,672.7L1033.0,685.2L1019.4,685.2ZM1024.6,685.7L1031.4,698.2L1017.8,698.2ZM900.3,580.3L907.1,592.8L893.5,592.8Z" stroke="#7A3CB6" stroke-width="2.4" fill="none"/><path d="M214.7,332.7 L217.6,332.2 L221.5,331.7 L226.0,331.0 L231.1,330.3 L236.6,329.3 L242.2,328.2 L247.9,326.9 L253.3,325.3 L258.7,323.4 L264.1,321.2 L269.7,318.8 L275.4,316.2 L281.2,313.5 L287.2,310.7 L293.2,308.0 L299.3,305.3 L305.7,302.6 L312.6,299.7 L319.8,296.7 L326.9,293.7 L333.9,290.9 L340.6,288.2 L346.6,285.8 L351.9,283.8 L356.4,282.2 L360.2,280.9 L363.5,279.9 L366.4,279.1 L369.1,278.5 L371.6,278.0 L374.1,277.5 L376.7,277.0 L379.3,276.6 L381.9,276.2 L384.3,276.0 L386.6,275.9 L388.8,275.8 L391.0,275.8 L393.1,275.8 L395.2,275.8 L397.2,275.8 L399.1,275.8 L400.9,275.9 L402.6,275.9 L404.3,276.1 L406.1,276.3 L408.0,276.6 L410.0,277.0 L412.1,277.5 L414.3,278.1 L416.6,278.7 L419.0,279.4 L421.3,280.2 L423.7,281.1 L426.1,282.1 L428.4,283.1 L430.7,284.2 L433.0,285.4 L435.3,286.7 L437.5,288.1 L439.8,289.5 L442.1,291.0 L444.4,292.5 L446.7,294.1 L449.0,295.8 L451.3,297.6 L453.6,299.4 L455.9,301.3 L458.2,303.3 L460.5,305.2 L462.8,307.0 L465.1,308.8 L467.4,310.5 L469.7,312.1 L472.0,313.7 L474.3,315.2 L476.6,316.7 L478.9,318.3 L481.2,319.9 L483.5,321.6 L485.8,323.4 L488.1,325.2 L490.4,327.1 L492.7,329.1 L494.9,331.0 L497.2,332.8 L499.5,334.6 L501.8,336.3 L504.1,337.9 L506.4,339.3 L508.7,340.7 L511.0,342.1 L513.3,343.4 L515.6,344.7 L517.9,346.0 L520.2,347.4 L522.5,348.8 L524.8,350.2 L527.1,351.6 L529.4,353.0 L531.7,354.4 L534.0,355.8 L536.3,357.1 L538.6,358.4 L540.9,359.6 L543.3,360.8 L545.7,362.0 L548.1,363.1 L550.5,364.2 L552.8,365.3 L555.0,366.5 L557.0,367.6 L558.8,368.7 L560.4,369.7 L561.8,370.8 L563.2,371.8 L564.6,372.9 L566.1,374.0 L567.8,375.3 L569.8,376.7 L572.0,378.2 L574.4,379.8 L576.9,381.5 L579.6,383.2 L582.4,385.1 L585.4,387.2 L588.5,389.4 L591.8,391.8 L595.4,394.5 L599.3,397.6 L603.5,400.8 L607.8,404.2 L612.1,407.6 L616.3,411.0 L620.2,414.3 L623.7,417.3 L626.9,420.2 L629.9,423.0 L632.7,425.8 L635.3,428.4 L637.8,431.0 L640.2,433.5 L642.4,435.9 L644.5,438.2 L646.4,440.3 L648.2,442.3 L649.7,444.1 L651.1,445.9 L652.5,447.6 L653.8,449.3 L655.2,451.0 L656.7,452.8 L658.2,454.6 L659.8,456.5 L661.3,458.3 L662.9,460.1 L664.4,462.0 L665.9,463.8 L667.5,465.7 L669.0,467.5 L670.5,469.3 L672.1,471.1 L673.6,472.9 L675.1,474.7 L676.6,476.5 L678.2,478.4 L679.7,480.3 L681.2,482.2 L682.7,484.2 L684.2,486.2 L685.7,488.3 L687.2,490.4 L688.7,492.5 L690.2,494.6 L691.7,496.8 L693.2,499.0 L694.7,501.2 L696.3,503.3 L697.8,505.4 L699.3,507.6 L700.9,509.9 L702.5,512.2 L704.2,514.8 L705.9,517.5 L707.7,520.5 L709.6,523.7 L711.6,527.1 L713.6,530.6 L715.7,534.1 L717.8,537.7 L719.8,541.1 L721.8,544.5 L723.8,547.7 L725.8,550.8 L727.8,553.9 L729.8,556.9 L731.7,560.0 L733.7,563.2 L735.7,566.5 L737.7,570.0 L739.7,573.7 L741.7,577.7 L743.8,581.7 L745.8,585.9 L747.9,590.1 L749.8,594.1 L751.8,598.1 L753.6,601.8 L755.3,605.3 L757.0,608.8 L758.6,612.1 L760.2,615.4 L761.7,618.5 L763.3,621.6 L764.8,624.5 L766.4,627.3 L768.0,629.9 L769.4,632.1 L770.9,634.1 L772.4,636.1 L773.9,638.2 L775.5,640.4 L777.3,642.8 L779.2,645.7 L781.3,649.1 L783.7,653.1 L786.2,657.3 L788.8,661.7 L791.4,666.1 L793.9,670.2 L796.4,673.9 L798.7,677.1 L800.9,679.7 L803.2,682.0 L805.4,684.0 L807.5,685.7 L809.6,687.2 L811.4,688.5 L813.0,689.7 L814.4,690.8 L815.5,691.7 L816.2,692.4 L816.8,692.9 L817.2,693.3 L817.4,693.5 L817.6,693.7 L817.8,693.8 L818.0,694.0" stroke="#7030A0" stroke-width="3.4" fill="none" stroke-linejoin="round" stroke-linecap="round" clip-path="url(#pc)"/><defs><clipPath id="pc"><rect x="120" y="10" width="920" height="682"/></clipPath></defs><path d="M122.7,16V692.0H1032M122.7,692.0h10M122.7,625.0h7M122.7,585.3h7M122.7,557.2h7M122.7,535.4h7M122.7,517.6h7M122.7,502.6h7M122.7,489.5h7M122.7,478.0h7M122.7,467.0h10M122.7,400.0h7M122.7,360.3h7M122.7,332.2h7M122.7,310.4h7M122.7,292.6h7M122.7,277.6h7M122.7,264.5h7M122.7,253.0h7M122.7,242.0h10M122.7,175.0h7M122.7,135.3h7M122.7,107.2h7M122.7,85.4h7M122.7,67.6h7M122.7,52.6h7M122.7,39.5h7M122.7,28.0h7M122.7,17.0h10M283.6,692.0v-7.5M377.7,692.0v-7.5M444.5,692.0v-7.5M496.3,692.0v-7.5M538.6,692.0v-7.5M574.4,692.0v-7.5M605.4,692.0v-7.5M632.7,692.0v-7.5M657.2,692.0v-11M818.1,692.0v-7.5M912.2,692.0v-7.5M979.0,692.0v-7.5M1030.8,692.0v-7.5" stroke="#000" stroke-width="2.5" fill="none" stroke-linejoin="miter"/><text x="90.5" y="28.0" font-family="&apos;Liberation Sans&apos;, sans-serif" font-size="31" font-weight="bold" text-anchor="end" textLength="53" lengthAdjust="spacingAndGlyphs">100</text><text x="92.4" y="253.5" font-family="&apos;Liberation Sans&apos;, sans-serif" font-size="31" font-weight="bold" text-anchor="end" textLength="37.6" lengthAdjust="spacingAndGlyphs">10</text><text x="90.6" y="478.7" font-family="&apos;Liberation Sans&apos;, sans-serif" font-size="31" font-weight="bold" text-anchor="end">1</text><text x="88.9" y="702.5" font-family="&apos;Liberation Sans&apos;, sans-serif" font-size="31" font-weight="bold" text-anchor="end" textLength="44.2" lengthAdjust="spacingAndGlyphs">0.1</text><text x="90.4" y="747.4" font-family="&apos;Liberation Sans&apos;, sans-serif" font-size="31" font-weight="bold" text-anchor="start" textLength="62.6" lengthAdjust="spacingAndGlyphs">0.01</text><text x="635.0" y="747.4" font-family="&apos;Liberation Sans&apos;, sans-serif" font-size="31" font-weight="bold" text-anchor="start" textLength="43.8" lengthAdjust="spacingAndGlyphs">0.1</text><text x="532.2" y="797.2" font-family="&apos;Liberation Sans&apos;, sans-serif" font-size="31" font-weight="bold" text-anchor="start" textLength="89.0" lengthAdjust="spacingAndGlyphs">q, 1/Å</text><g transform="translate(35.8,391) rotate(-90)"><text x="0" y="0" font-family="&apos;Liberation Sans&apos;, sans-serif" font-size="31" font-weight="bold" text-anchor="start" textLength="78.6" lengthAdjust="spacingAndGlyphs">I, a.u.</text></g><text x="711.8" y="66.6" font-family="&apos;Liberation Sans&apos;, sans-serif" font-size="29.8" fill="#000" textLength="213.6" lengthAdjust="spacingAndGlyphs">poly(A1-alt-B1)</text><text x="924.7" y="70.3" font-family="&apos;Liberation Sans&apos;, sans-serif" font-size="16" fill="#000" textLength="24.6" lengthAdjust="spacingAndGlyphs">50</text><text x="711.8" y="112.7" font-family="&apos;Liberation Sans&apos;, sans-serif" font-size="29.8" fill="#000" textLength="213.6" lengthAdjust="spacingAndGlyphs">poly(A1-alt-B1)</text><text x="924.7" y="116.4" font-family="&apos;Liberation Sans&apos;, sans-serif" font-size="16" fill="#000" textLength="24.6" lengthAdjust="spacingAndGlyphs">50</text><text x="948.5" y="113.6" font-family="&apos;Liberation Sans&apos;, sans-serif" font-size="29.8" fill="#000" textLength="48" lengthAdjust="spacingAndGlyphs">_fit</text><text x="711.8" y="158.8" font-family="&apos;Liberation Sans&apos;, sans-serif" font-size="29.8" fill="#000" textLength="213.6" lengthAdjust="spacingAndGlyphs">poly(A2-alt-B1)</text><text x="924.7" y="162.5" font-family="&apos;Liberation Sans&apos;, sans-serif" font-size="16" fill="#000" textLength="24.6" lengthAdjust="spacingAndGlyphs">50</text><text x="711.8" y="204.9" font-family="&apos;Liberation Sans&apos;, sans-serif" font-size="29.8" fill="#000" textLength="213.6" lengthAdjust="spacingAndGlyphs">poly(A2-alt-B1)</text><text x="924.7" y="208.6" font-family="&apos;Liberation Sans&apos;, sans-serif" font-size="16" fill="#000" textLength="24.6" lengthAdjust="spacingAndGlyphs">50</text><text x="948.5" y="205.8" font-family="&apos;Liberation Sans&apos;, sans-serif" font-size="29.8" fill="#000" textLength="48" lengthAdjust="spacingAndGlyphs">_fit</text><text x="711.8" y="251.0" font-family="&apos;Liberation Sans&apos;, sans-serif" font-size="29.8" fill="#000" textLength="213.6" lengthAdjust="spacingAndGlyphs">poly(A3-alt-B1)</text><text x="924.7" y="254.7" font-family="&apos;Liberation Sans&apos;, sans-serif" font-size="16" fill="#000" textLength="24.6" lengthAdjust="spacingAndGlyphs">50</text><text x="711.8" y="297.1" font-family="&apos;Liberation Sans&apos;, sans-serif" font-size="29.8" fill="#000" textLength="213.6" lengthAdjust="spacingAndGlyphs">poly(A3-alt-B1)</text><text x="924.7" y="300.8" font-family="&apos;Liberation Sans&apos;, sans-serif" font-size="16" fill="#000" textLength="24.6" lengthAdjust="spacingAndGlyphs">50</text><text x="948.5" y="298.0" font-family="&apos;Liberation Sans&apos;, sans-serif" font-size="29.8" fill="#000" textLength="48" lengthAdjust="spacingAndGlyphs">_fit</text><path d="M672.9,51.8L684.1,63.0M672.9,63.0L684.1,51.8" stroke="#78E4F4" stroke-width="2.3" stroke-linecap="round" fill="none"/><path d="M651,103.5H707" stroke="#14D4E8" stroke-width="3.8" stroke-linecap="round"/><circle cx="678.5" cy="148.7" r="6.5" fill="none" stroke="#2A84CE" stroke-width="2.5"/><path d="M651,195.9H707" stroke="#0070C0" stroke-width="3.8" stroke-linecap="round"/><path d="M678.6,233.9L685.4,246.4L671.8,246.4Z" stroke="#7A3CB6" stroke-width="2.4" fill="none"/><path d="M651,288.4H707" stroke="#7030A0" stroke-width="3.8" stroke-linecap="round"/></svg>
</body></html>
